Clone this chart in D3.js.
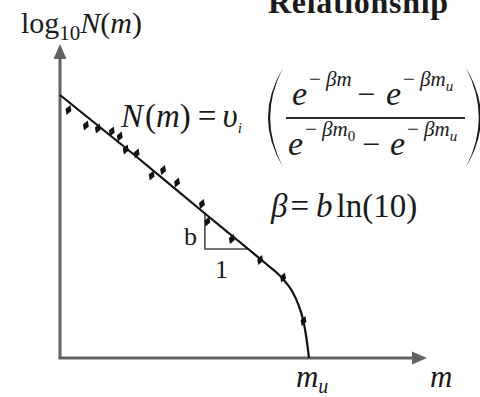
<!DOCTYPE html>
<html>
<head>
<meta charset="utf-8">
<script src="https://cdn.jsdelivr.net/npm/d3@7/dist/d3.min.js"></script>
<style>
  html, body { margin: 0; padding: 0; background: #fff; }
  svg { display: block; }
  text { font-family: "Liberation Serif", "Times New Roman", serif; fill: #1a1a1a; }
  .it { font-style: italic; }
</style>
</head>
<body>
<svg id="chart" width="480" height="397" font-family="Liberation Serif, serif"></svg>
<script>
// Magnitude axis (m) and log10 N(m) values of the truncated Gutenberg–Richter curve
const curveM    = [0, 1.47, 2.91, 3.78, 4.12, 4.46, 4.66, 4.79, 4.89, 4.95, 5.0];
const curveLogN = [5.26, 4.08, 2.89, 2.18, 1.90, 1.60, 1.34, 1.06, 0.73, 0.39, 0];

// Observed cumulative counts
const dotM    = [0.17, 0.52, 0.76, 1.04, 1.20, 1.32, 1.54, 1.84, 2.07, 2.35, 2.85, 2.96, 3.45, 4.02, 4.48, 4.89];
const dotLogN = [4.96, 4.65, 4.59, 4.53, 4.43, 4.17, 4.09, 3.65, 3.76, 3.51, 3.08, 2.73, 2.38, 1.96, 1.61, 0.74];

// Slope triangle (b over 1)
const triM    = [2.91, 2.91, 3.78];
const triLogN = [2.89, 2.18, 2.18];

// Axis extents and the maximum magnitude
const axisMaxM = 7.37;
const axisMaxLogN = 6.28;
const mU = 5.0;

const svg = d3.select("#chart");
const x = d3.scaleLinear().domain([0, axisMaxM]).range([60, 427]);
const y = d3.scaleLinear().domain([0, axisMaxLogN]).range([358, 44]);

const axisColor = "#626262";
const head = 15, half = 6.5;

// y axis with arrow
svg.append("line")
  .attr("x1", x(0)).attr("y1", y(0))
  .attr("x2", x(0)).attr("y2", y(axisMaxLogN) + head - 1)
  .attr("stroke", axisColor).attr("stroke-width", 3);
svg.append("path")
  .attr("d", `M${x(0)},${y(axisMaxLogN)} L${x(0) - half},${y(axisMaxLogN) + head} L${x(0) + half},${y(axisMaxLogN) + head} Z`)
  .attr("fill", axisColor);

// x axis with arrow
svg.append("line")
  .attr("x1", x(0) - 1.5).attr("y1", y(0))
  .attr("x2", x(axisMaxM) - head + 1).attr("y2", y(0))
  .attr("stroke", axisColor).attr("stroke-width", 3);
svg.append("path")
  .attr("d", `M${x(axisMaxM)},${y(0)} L${x(axisMaxM) - head},${y(0) - half} L${x(axisMaxM) - head},${y(0) + half} Z`)
  .attr("fill", axisColor);

// Slope triangle
const triPts = triM.map((m, i) => [x(m), y(triLogN[i])]);
svg.append("path")
  .attr("d", d3.line()(triPts))
  .attr("fill", "none").attr("stroke", "#4a4a4a").attr("stroke-width", 1.6);

// Model curve
const curvePts = curveM.map((m, i) => [x(m), y(curveLogN[i])]);
svg.append("path")
  .attr("d", d3.line().curve(d3.curveMonotoneX)(curvePts))
  .attr("fill", "none").attr("stroke", "#111").attr("stroke-width", 2.2);

// Observations
svg.append("g").selectAll("path")
  .data(dotM.map((m, i) => [m, dotLogN[i]]))
  .join("path")
  .attr("transform", d => `translate(${x(d[0])},${y(d[1])}) rotate(20)`)
  .attr("d", d3.symbol(d3.symbolDiamond, 34))
  .attr("fill", "#111");

// Triangle labels
svg.append("text").attr("x", x(triM[0]) - 21).attr("y", 245)
  .attr("font-size", 26).text("b");
svg.append("text").attr("x", 215).attr("y", 278)
  .attr("font-size", 26).text("1");

// Axis labels
const yl = svg.append("text").attr("x", 21).attr("y", 33).attr("font-size", 30);
yl.append("tspan").text("log");
yl.append("tspan").attr("font-size", 21).attr("dy", 7).text("10");
yl.append("tspan").attr("dy", -7).attr("class", "it").text("N");
yl.append("tspan").text("(");
yl.append("tspan").attr("class", "it").text("m");
yl.append("tspan").text(")");

const mu = svg.append("text").attr("x", x(mU) - 13).attr("y", 387).attr("font-size", 31).attr("class", "it");
mu.append("tspan").text("m");
mu.append("tspan").attr("font-size", 20).attr("dy", 6).text("u");

svg.append("text").attr("x", 430).attr("y", 387).attr("font-size", 31).attr("class", "it").text("m");

// Title (partly above the frame)
svg.append("text").attr("x", 268).attr("y", 13).attr("font-size", 32)
  .attr("font-weight", "bold").attr("textLength", 180).text("Relationship");

// Formula: N(m) = υ_i ( ... )
const eq = svg.append("text").attr("x", 121).attr("y", 127).attr("font-size", 33);
eq.append("tspan").attr("class", "it").text("N");
eq.append("tspan").attr("dx", 2).text("(");
eq.append("tspan").attr("class", "it").text("m");
eq.append("tspan").text(")");
eq.append("tspan").attr("dx", 7).text("=");
eq.append("tspan").attr("dx", 6).attr("class", "it").text("υ");
eq.append("tspan").attr("class", "it").attr("font-size", 15).attr("dy", 6).text("i");

// Big parentheses
function paren(x0, top, bot, bulge, thick) {
  const mid = (top + bot) / 2;
  return `M${x0},${top} Q${x0 - 2 * bulge},${mid} ${x0},${bot} Q${x0 - 2 * bulge + thick * 2},${mid} ${x0},${top} Z`;
}
svg.append("path").attr("d", paren(283, 68, 167, 15, 2.2)).attr("fill", "#1a1a1a");
svg.append("path").attr("d", paren(466, 68, 167, -15, -2.2)).attr("fill", "#1a1a1a");

// Exponential term: e^{-βm...}
function expTerm(x0, base, sub) {
  svg.append("text").attr("x", x0).attr("y", base).attr("font-size", 34).attr("class", "it").text("e");
  const s = svg.append("text").attr("x", x0 + 17).attr("y", base - 19).attr("font-size", 21);
  s.append("tspan").text("− ");
  s.append("tspan").attr("class", "it").text("βm");
  if (sub) s.append("tspan").attr("font-size", 15).attr("dy", 5).attr("class", sub === "u" ? "it" : null).text(sub);
}
function minus(x0, base) {
  svg.append("text").attr("x", x0).attr("y", base).attr("font-size", 32).text("−");
}

expTerm(292, 105, null);
minus(357, 105);
expTerm(386, 105, "u");

svg.append("line").attr("x1", 286).attr("x2", 465).attr("y1", 118).attr("y2", 118)
  .attr("stroke", "#2a2a2a").attr("stroke-width", 2);

expTerm(288, 155, "0");
minus(362, 155);
expTerm(390, 155, "u");

// β = b ln(10)
const bt = svg.append("text").attr("x", 271).attr("y", 217).attr("font-size", 33);
bt.append("tspan").attr("class", "it").text("β");
bt.append("tspan").attr("dx", 3).text("=");
bt.append("tspan").attr("dx", 7).attr("class", "it").text("b");
bt.append("tspan").attr("dx", 4).text("ln(10)");
</script>
</body>
</html>
